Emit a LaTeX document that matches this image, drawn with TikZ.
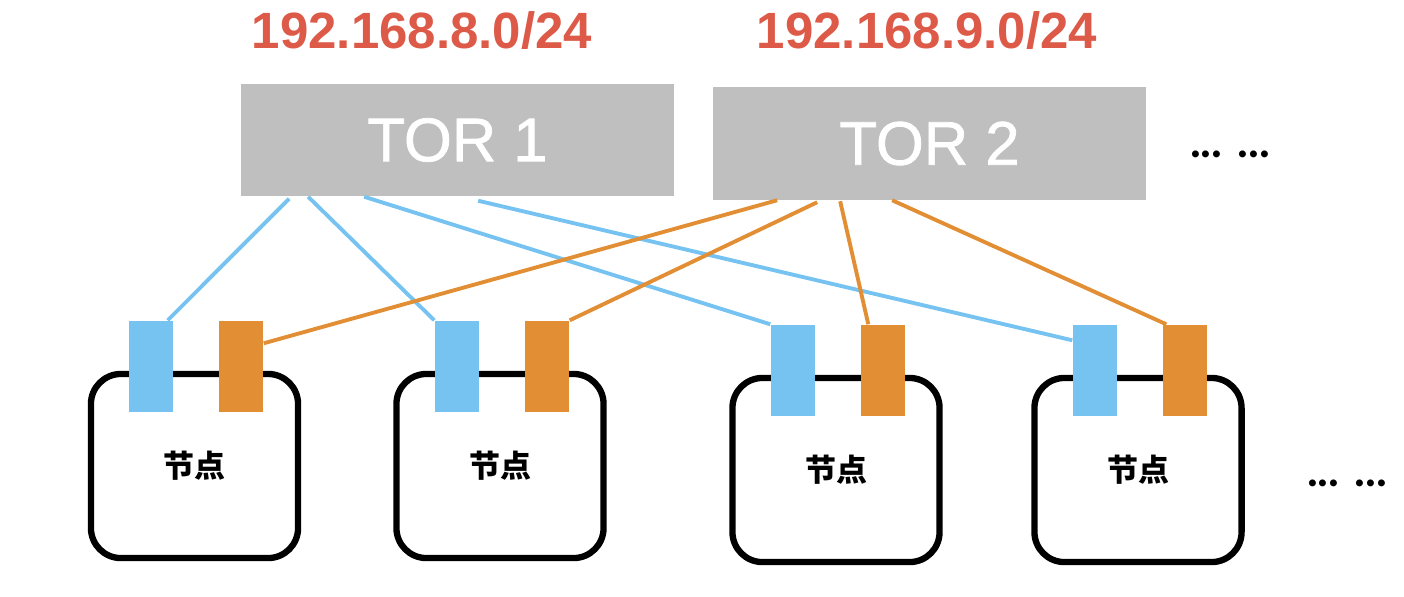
\documentclass[tikz,border=0pt]{standalone}
\usepackage{fontspec}
\setmainfont{Liberation Sans}
\newfontfamily\cjk{Noto Sans CJK SC}
\newfontfamily\dotfont{Lato}
\newfontfamily\torfont{Liberation Sans}[FakeBold=1.2]
\usetikzlibrary{calc}
\definecolor{ipcol}{RGB}{221,90,72}
\definecolor{torcol}{RGB}{191,191,191}
\definecolor{bcol}{RGB}{118,195,242}
\definecolor{ocol}{RGB}{226,142,52}
\tikzset{every picture/.style={x=0.01cm,y=-0.01cm}}
\tikzset{tor/.style={fill=torcol,minimum width=4.33cm,minimum height=1.12cm,inner sep=0,text=white,font=\torfont\fontsize{17.5}{20}\selectfont}}
\tikzset{ip/.style={text=ipcol,anchor=base,inner sep=0,font=\fontsize{14.5}{17}\selectfont\bfseries}}
\tikzset{host/.style={draw,line width=1.8pt,rounded corners=0.3cm,minimum width=2.07cm,minimum height=1.84cm,inner sep=0,font=\cjk\fontsize{8.8}{10}\selectfont\bfseries}}
\tikzset{port/.style={minimum width=0.44cm,minimum height=0.91cm,inner sep=0}}
\tikzset{link/.style={line width=1.1pt}}
\tikzset{more/.style={inner sep=0,anchor=base,font=\dotfont\fontsize{13}{15}\selectfont\bfseries}}

\begin{document}
\begin{tikzpicture}
\useasboundingbox (0,0) rectangle (1404,596);
\node [ip] (ip1) at (422,48) {192.168.8.0/24};
\node [ip] (ip2) at (927,48) {192.168.9.0/24};

\node [tor] (tor1) at (457.5,140) {TOR 1};
\node [tor] (tor2) at (929.5,143.5) {TOR 2};
\node [more] (dots1) at (1230,157) {... ...};

\node [host] (h1) at (194.5,466) {节点};
\node [host] (h2) at (500,466) {节点};
\node [host] (h3) at (836,470) {节点};
\node [host] (h4) at (1138,470) {节点};
\node [more] (dots2) at (1347,486) {... ...};

\node [port,fill=bcol] (b1) at (151,366.5) {};
\node [port,fill=ocol] (o1) at (241,366.5) {};
\node [port,fill=bcol] (b2) at (457,366.5) {};
\node [port,fill=ocol] (o2) at (547,366.5) {};
\node [port,fill=bcol] (b3) at (793,370.5) {};
\node [port,fill=ocol] (o3) at (883,370.5) {};
\node [port,fill=bcol] (b4) at (1095,370.5) {};
\node [port,fill=ocol] (o4) at (1185,370.5) {};

\draw [bcol,link] ($(tor1.south west)+(49,2)$) -- ($(b1.north east)+(-6,0)$);
\draw [bcol,link] ($(tor1.south west)+(68,0)$) -- (b2.north west);
\draw [bcol,link] ($(tor1.south west)+(124,0)$) -- (b3.north west);
\draw [bcol,link] ($(tor1.south west)+(238,4)$) -- ($(b4.north west)+(0,16)$);

\draw [ocol,link] ($(tor2.south west)+(65,0)$) -- ($(o1.north east)+(0,23)$);
\draw [ocol,link] ($(tor2.south west)+(105,2)$) -- (o2.north east);
\draw [ocol,link] ($(tor2.south west)+(128,1)$) -- ($(o3.north west)+(8,0)$);
\draw [ocol,link] ($(tor2.south west)+(180,0)$) -- ($(o4.north west)+(4,0)$);
\end{tikzpicture}
\end{document}
